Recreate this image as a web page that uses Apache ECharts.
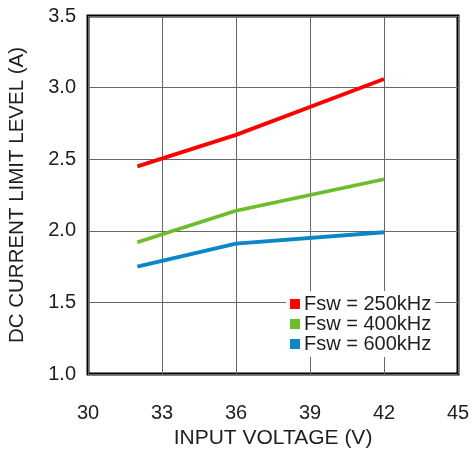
<!DOCTYPE html>
<html>
<head>
<meta charset="utf-8">
<script src="https://cdn.jsdelivr.net/npm/echarts@6/dist/echarts.min.js"></script>
<style>html,body{margin:0;padding:0;background:#fff}#c{width:472px;height:449px}</style>
</head>
<body>
<div id="c"></div>
<script>
const xVoltage = [32, 36, 42];
const fsw250 = [2.45, 2.67, 3.06];
const fsw400 = [1.92, 2.14, 2.36];
const fsw600 = [1.75, 1.91, 1.99];
const seriesNames = ['Fsw = 250kHz', 'Fsw = 400kHz', 'Fsw = 600kHz'];
const xTitle = 'INPUT VOLTAGE (V)';
const yTitle = 'DC CURRENT LIMIT LEVEL (A)';

const colors = ['#ff0000', '#6cbd2c', '#0b86c6'];
const font = 'Liberation Sans, Arial, sans-serif';
const pair = (xs, ys) => xs.map((x, i) => [x, ys[i]]);

const chart = echarts.init(document.getElementById('c'));
chart.setOption({
  animation: false,
  color: colors,
  grid: { left: 88, top: 16, width: 370, height: 358, show: true, borderColor: '#000', borderWidth: 3, backgroundColor: 'transparent', containLabel: false, outerBoundsMode: 'none' },
  legend: {
    orient: 'vertical', left: 286, top: 291, padding: [3, 4, 3, 4],
    backgroundColor: '#fff', itemWidth: 10, itemHeight: 10, itemGap: 0, icon: 'rect',
    textStyle: { fontFamily: font, fontSize: 20, lineHeight: 19, color: '#1e1e1e', padding: [0, 0, 0, -1] },
    data: seriesNames
  },
  xAxis: {
    type: 'value', min: 30, max: 45, interval: 3,
    name: xTitle, nameLocation: 'middle', nameGap: 54,
    nameTextStyle: { fontFamily: font, fontSize: 21, color: '#1e1e1e' },
    axisLine: { show: false }, axisTick: { show: false },
    axisLabel: { fontFamily: font, fontSize: 20, color: '#1e1e1e', margin: 29 },
    splitLine: { show: true, lineStyle: { color: '#666', width: 1 } }
  },
  yAxis: {
    type: 'value', min: 1.0, max: 3.5, interval: 0.5,
    name: yTitle, nameLocation: 'middle', nameGap: 60,
    nameTextStyle: { fontFamily: font, fontSize: 20.5, color: '#1e1e1e' },
    axisLine: { show: false }, axisTick: { show: false },
    axisLabel: { fontFamily: font, fontSize: 20, color: '#1e1e1e', margin: 12, formatter: v => v.toFixed(1) },
    splitLine: { show: true, lineStyle: { color: '#666', width: 1 } }
  },
  series: [
    { name: seriesNames[0], type: 'line', data: pair(xVoltage, fsw250), showSymbol: false, lineStyle: { width: 3.8 } },
    { name: seriesNames[1], type: 'line', data: pair(xVoltage, fsw400), showSymbol: false, lineStyle: { width: 3.8 } },
    { name: seriesNames[2], type: 'line', data: pair(xVoltage, fsw600), showSymbol: false, lineStyle: { width: 3.8 } }
  ]
});
</script>
</body>
</html>
